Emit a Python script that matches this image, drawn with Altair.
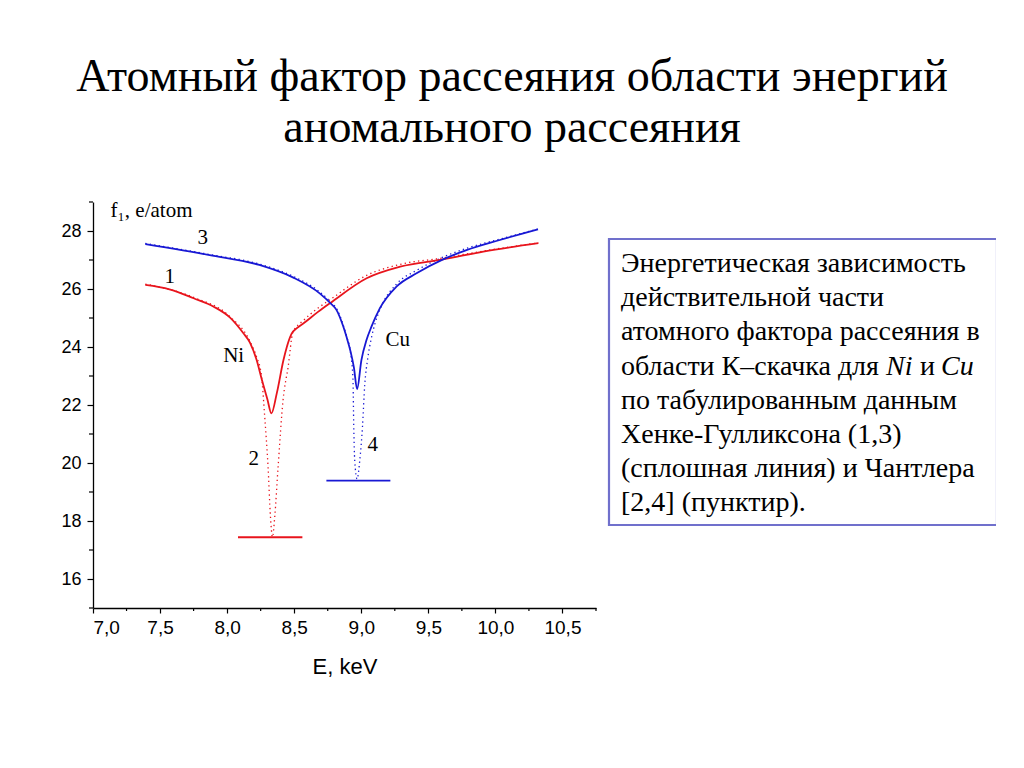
import altair as alt
import pandas as pd

# ---------------- data ----------------
# curve 1: Ni, Henke-Gullikson (solid)
ni_hg_E = [7.39, 7.57, 7.75, 7.90, 8.02, 8.12, 8.17, 8.22, 8.26, 8.30, 8.33,
           8.37, 8.42, 8.445, 8.48, 8.52, 8.57, 8.68, 8.77, 9.04, 9.29, 9.61, 9.91, 10.32]
ni_hg_f = [26.14, 25.99, 25.68, 25.39, 25.02, 24.48, 24.15, 23.55, 22.85, 22.20, 21.71,
           22.40, 23.55, 24.00, 24.45, 24.65, 24.82, 25.22, 25.52, 26.37, 26.77, 27.02, 27.29, 27.58]

# curve 2: Ni, Chantler (dotted)
ni_ch_E = [7.39, 7.75, 8.02, 8.17, 8.22, 8.255, 8.28, 8.305, 8.323, 8.338, 8.355,
           8.38, 8.417, 8.455, 8.49, 8.57, 8.68, 8.77, 9.04, 9.29, 9.61, 9.91, 10.32]
ni_ch_f = [26.17, 25.71, 25.05, 24.20, 23.65, 23.05, 21.60, 19.87, 18.15, 17.45, 18.15,
           19.87, 22.17, 23.32, 24.50, 24.92, 25.35, 25.64, 26.47, 26.85, 27.07, 27.31, 27.59]

# curve 3: Cu, Henke-Gullikson (solid)
cu_hg_E = [7.39, 7.87, 8.24, 8.49, 8.69, 8.77, 8.815, 8.864, 8.89, 8.92, 8.945, 8.969,
           9.001, 9.039, 9.076, 9.138, 9.262, 9.412, 9.61, 9.784, 10.033, 10.318]
cu_hg_f = [27.55, 27.17, 26.83, 26.40, 25.85, 25.51, 25.28, 24.73, 24.35, 23.85, 23.30, 22.55,
           23.55, 24.24, 24.70, 25.33, 26.08, 26.54, 27.02, 27.34, 27.69, 28.06]

# curve 4: Cu, Chantler (dotted)
cu_ch_E = [7.39, 7.87, 8.24, 8.49, 8.69, 8.77, 8.815, 8.864, 8.89, 8.92, 8.938, 8.944, 8.951,
           8.969, 8.989, 9.009, 9.026, 9.048, 9.075, 9.105, 9.145, 9.262, 9.412, 9.61, 9.784,
           10.033, 10.318]
cu_ch_f = [27.57, 27.19, 26.86, 26.44, 25.90, 25.56, 25.33, 24.78, 24.38, 23.80, 22.90, 21.25, 20.10,
           19.45, 20.10, 21.25, 22.70, 23.60, 24.30, 24.85, 25.35, 26.17, 26.64, 27.10, 27.40,
           27.72, 28.07]

# horizontal bars marking the Chantler minima
bar_E1 = [8.081, 8.740]
bar_E2 = [8.561, 9.217]
bar_f = [17.44, 19.39]
bar_series = ["Ni", "Cu"]

# curve annotations
label_text = ["3", "1", "Ni", "Cu", "2", "4"]
label_E = [7.818, 7.572, 8.049, 9.272, 8.198, 9.086]
label_f = [27.76, 26.41, 23.69, 24.24, 20.14, 20.62]

# axis ticks
x_major = [7.0, 7.5, 8.0, 8.5, 9.0, 9.5, 10.0, 10.5]
x_minor = [7.25, 7.75, 8.25, 8.75, 9.25, 9.75, 10.25, 10.75]
y_major = [16, 18, 20, 22, 24, 26, 28]
y_minor = [15, 17, 19, 21, 23, 25, 27, 29]

title_lines = ["Атомный фактор рассеяния области энергий", "аномального рассеяния"]
box_lines = [
    "Энергетическая зависимость",
    "действительной части",
    "атомного фактора рассеяния в",
    "области К–скачка для",
    "по табулированным данным",
    "Хенке-Гулликсона (1,3)",
    "(сплошная линия) и Чантлера",
    "[2,4] (пунктир).",
]

# ---------------- styling ----------------
RED = "#e8141c"
BLUE = "#1818d4"
SERIF = "Liberation Serif"
SANS = "Liberation Sans"
W, H = 503, 406
PAD_L, PAD_T = 85, 194

xs = alt.Scale(domain=[7.0, 10.75], nice=False, zero=False)
ys = alt.Scale(domain=[15, 29], nice=False, zero=False)

X_AXIS = alt.Axis(values=x_major, title="E, keV", tickSize=5, tickWidth=1.2,
                  labelExpr="replace(format(datum.value, '.1f'), '.', ',')",
                  labelFont=SANS, labelFontSize=19, labelPadding=5,
                  titleFont=SANS, titleFontSize=22, titleFontWeight="normal",
                  titleBaseline="alphabetic", titleY=65, domainWidth=1.3)
Y_AXIS = alt.Axis(values=y_major, title="f₁, e/atom", tickSize=6, tickWidth=1.2,
                  labelFont=SANS, labelFontSize=18, labelPadding=6,
                  titleFont=SERIF, titleFontSize=21, titleFontWeight="normal",
                  titleAngle=0, titleAlign="left", titleBaseline="alphabetic",
                  titleX=17, titleY=14, domainWidth=1.3)


def X(field):
    return alt.X(field, scale=xs, axis=X_AXIS)


def Y(field):
    return alt.Y(field, scale=ys, axis=Y_AXIS)


one = pd.DataFrame({"a": [0]})


def curve(E, f, color, dotted):
    df = pd.DataFrame({"E": E, "f": f})
    if dotted:
        mk = alt.Chart(df).mark_line(color=color, strokeWidth=1.3, interpolate="monotone",
                                     strokeDash=[1.3, 3.2], strokeCap="butt")
    else:
        mk = alt.Chart(df).mark_line(color=color, strokeWidth=1.8, interpolate="monotone")
    return mk.encode(x=X("E:Q"), y=Y("f:Q"))


minor_x = alt.Chart(pd.DataFrame({"E": x_minor})).mark_rule(color="black", strokeWidth=1.2).encode(
    x=X("E:Q"), y=alt.value(H), y2=alt.value(H + 3))
minor_y = alt.Chart(pd.DataFrame({"f": y_minor})).mark_rule(color="black", strokeWidth=1.2).encode(
    y=Y("f:Q"), x=alt.value(0), x2=alt.value(-4))

bars_df = pd.DataFrame({"E": bar_E1, "E2": bar_E2, "f": bar_f, "s": bar_series})
bars = alt.Chart(bars_df).mark_rule(strokeWidth=1.8).encode(
    x=X("E:Q"), x2="E2:Q", y=Y("f:Q"),
    color=alt.Color("s:N", scale=alt.Scale(domain=["Ni", "Cu"], range=[RED, BLUE]), legend=None))

labels = alt.Chart(pd.DataFrame({"E": label_E, "f": label_f, "t": label_text})).mark_text(
    font=SERIF, fontSize=21, align="center", baseline="middle", color="black").encode(
    x=X("E:Q"), y=Y("f:Q"), text="t:N")

layers = [curve(ni_ch_E, ni_ch_f, RED, True), curve(cu_ch_E, cu_ch_f, BLUE, True),
          curve(ni_hg_E, ni_hg_f, RED, False), curve(cu_hg_E, cu_hg_f, BLUE, False),
          minor_x, minor_y, bars, labels]

# title (page-centred)
for i, line in enumerate(title_lines):
    layers.append(alt.Chart(one).mark_text(text=line, font=SERIF, fontSize=46, align="center",
                                           baseline="alphabetic", color="black").encode(
        x=alt.value(512 - 8 - PAD_L), y=alt.value([91, 142][i] - 8 - PAD_T)))

# text box
BX0, BX1, BY0, BY1 = 609, 997, 239, 525
layers.append(alt.Chart(one).mark_rect(fill="white", stroke="#7070cc", strokeWidth=2.2).encode(
    x=alt.value(BX0 - 8 - PAD_L), x2=alt.value(BX1 - 8 - PAD_L),
    y=alt.value(BY0 - 8 - PAD_T), y2=alt.value(BY1 - 8 - PAD_T)))
TX = 621 - 8 - PAD_L
for i, line in enumerate(box_lines):
    yb = 272 + i * 34.2 - 8 - PAD_T
    layers.append(alt.Chart(one).mark_text(text=line, font=SERIF, fontSize=28, align="left",
                                           baseline="alphabetic", color="black").encode(
        x=alt.value(TX), y=alt.value(yb)))
y4 = 272 + 3 * 34.2 - 8 - PAD_T
for txt, px, style in [("Ni", 886, "italic"), ("и", 920, "normal"), ("Cu", 941, "italic")]:
    layers.append(alt.Chart(one).mark_text(text=txt, font=SERIF, fontSize=28, align="left",
                                           fontStyle=style, baseline="alphabetic", color="black").encode(
        x=alt.value(px - 8 - PAD_L), y=alt.value(y4)))

chart = alt.layer(*layers).properties(
    width=W, height=H,
    autosize=alt.AutoSizeParams(type="none"),
    padding={"left": PAD_L, "top": PAD_T, "right": 400, "bottom": 150},
).configure_view(stroke=None).configure_axis(
    grid=False, domainColor="black", tickColor="black", labelColor="black", titleColor="black"
)

chart.save("out.html", embed_options={"renderer": "svg", "actions": False})
